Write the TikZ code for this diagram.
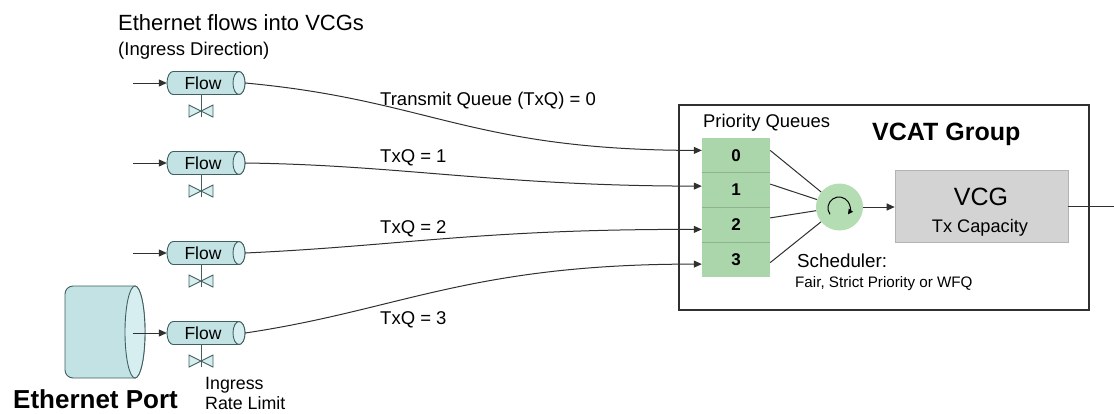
\documentclass[tikz,border=0pt]{standalone}
\usepackage{fontspec}
\setmainfont{Liberation Sans}
\usetikzlibrary{arrows.meta,calc}
\newcommand\fsz[1]{\fontsize{#1}{#1}\selectfont}
\definecolor{cyanfill}{HTML}{C2E2E4}
\definecolor{cyanend}{HTML}{D6EEF0}
\definecolor{cyanedge}{HTML}{3F5F60}
\definecolor{qgreen}{HTML}{ABD6AB}
\definecolor{qsep}{HTML}{8FB38F}
\definecolor{schgreen}{HTML}{B4DDB4}
\definecolor{vcgfill}{HTML}{D3D3D3}
\definecolor{linec}{HTML}{303030}
\newcommand\flowunit[2]{%
  \filldraw[cylbody] (239,#2-11.5) -- (173,#2-11.5) arc[start angle=270,end angle=90,x radius=6,y radius=11.5] -- (239,#2+11.5) arc[start angle=90,end angle=-90,x radius=6,y radius=11.5] -- cycle;
  \filldraw[cylend] (239,#2) ellipse[x radius=6,y radius=11.5];
  \node[flowbox] (#1) at (206,#2) {Flow\hspace*{6pt}};
  \draw[valve] (201,#2+11.5) -- (201,#2+34);
  \filldraw[valve] (189,#2+22) -- (201,#2+28) -- (189,#2+34) -- cycle (213,#2+22) -- (201,#2+28) -- (213,#2+34) -- cycle;
  \draw[valve] (201,#2+22) -- (201,#2+34);
}
\begin{document}
\begin{tikzpicture}[x=1pt,y=-1pt,
  conn/.style={draw=linec, line width=1pt},
  arr/.style={conn, -{Triangle[length=8pt,width=7pt]}},
  cylbody/.style={fill=cyanfill, draw=cyanedge, line width=0.9pt},
  cylend/.style={fill=cyanend, draw=cyanedge, line width=0.9pt},
  flowbox/.style={rectangle, minimum width=78pt, minimum height=23pt, inner sep=0pt, font=\fsz{17.5}},
  valve/.style={draw=cyanedge, fill=cyanend, line width=0.9pt, line join=miter},
  lbl/.style={inner sep=0pt, anchor=base west, font=\fsz{18.5}},
  qrow/.style={rectangle, fill=qgreen, minimum width=68pt, minimum height=34.75pt, inner sep=0pt, font=\bfseries\fsz{17}},
]
\useasboundingbox (0,0) rectangle (1114,413);

% titles
\node[lbl, font=\fsz{22}] (title) at (118,30) {Ethernet flows into VCGs};
\node[lbl, font=\fsz{18.5}] (subtitle) at (118,55) {(Ingress Direction)};

% VCAT group box
\node[draw=linec, line width=1.2pt, minimum width=410pt, minimum height=205pt, inner sep=0pt] (vcat) at (884,207.5) {};
\node[lbl, font=\bfseries\fsz{25}] (vcatt) at (872,140) {VCAT Group};
\node[lbl, font=\fsz{18.4}] (pq) at (703,127) {Priority Queues};

% queues
\node[qrow] (q0) at (736,155.4) {0};
\node[qrow] (q1) at (736,190.1) {1};
\node[qrow] (q2) at (736,224.9) {2};
\node[qrow] (q3) at (736,259.6) {3};
\draw[qsep, line width=1pt] (q0.south west) -- (q0.south east);
\draw[qsep, line width=1pt] (q1.south west) -- (q1.south east);
\draw[qsep, line width=1pt] (q2.south west) -- (q2.south east);

% scheduler
\node[circle, fill=schgreen, minimum size=47pt, inner sep=0pt] (sch) at (839.5,207) {};
\draw[line width=1pt, draw=black, -{Triangle[length=5pt,width=5pt]}] ([shift={(145:11)}]839,208) arc[start angle=145,end angle=395,radius=11];
\draw[conn] ($(q0.east)+(0,-5)$) -- (sch);
\draw[conn] ($(q1.east)+(0,-6)$) -- (sch);
\draw[conn] ($(q2.east)+(0,-7)$) -- (sch);
\draw[conn] ($(q3.east)+(0,3)$) -- (sch);
\node[lbl, font=\fsz{18.8}] (schl) at (797,267) {Scheduler:};
\node[lbl, font=\fsz{15.2}] (schm) at (795,287) {Fair, Strict Priority or WFQ};

% VCG
\node[fill=vcgfill, draw=vcgfill!85!black, line width=0.6pt, minimum width=173pt, minimum height=72pt, inner sep=0pt] (vcg) at (981.5,206) {};
\node[anchor=base, inner sep=0pt, font=\fsz{25}] (vcgt) at (981,205) {VCG};
\node[anchor=base, inner sep=0pt, font=\fsz{18.2}] (vcgc) at (980,232) {Tx Capacity};
\draw[arr] (sch.east) -- (sch.east -| vcg.west);
\coordinate (out) at (1114,206);
\draw[conn] (vcg.east) -- (out);

% Ethernet port
\filldraw[cylbody] (135,286) -- (73,286) arc[start angle=270,end angle=180,radius=8] -- (65,370) arc[start angle=180,end angle=90,radius=8] -- (135,378) arc[start angle=90,end angle=-90,x radius=10,y radius=46] -- cycle;
\filldraw[cylend] (135,332) ellipse[x radius=10,y radius=46];
\node[lbl, font=\bfseries\fsz{26}] (portl) at (13,408.5) {Ethernet Port};

% flows
\flowunit{f0}{83}
\flowunit{f1}{163}
\flowunit{f2}{253}
\flowunit{f3}{333}
\coordinate (s0) at (133,83);
\coordinate (s1) at (133,163);
\coordinate (s2) at (133,253);
\coordinate (s3) at (133,333);
\draw[arr] (s0) -- (f0);
\draw[arr] (s1) -- (f1);
\draw[arr] (s2) -- (f2);
\draw[arr] (s3) -- (f3);
\node[lbl, font=\fsz{17.8}] (ing1) at (205,389.5) {Ingress};
\node[lbl, font=\fsz{17.8}] (ing2) at (205,409.5) {Rate Limit};

% curves
\coordinate (e0) at ($(q0.west)+(0,-5)$);
\coordinate (e1) at ($(q1.west)+(0,-4)$);
\coordinate (e2) at ($(q2.west)+(0,4.5)$);
\coordinate (e3) at ($(q3.west)+(0,4.5)$);
\draw[arr] (f0.east) .. controls (430,100) and (470,150) .. (e0);
\draw[arr] (f1.east) .. controls (400,165) and (500,186) .. (e1);
\draw[arr] (f2.east) .. controls (400,246) and (480,229) .. (e2);
\draw[arr] (f3.east) .. controls (400,310) and (470,264) .. (e3);
\node[lbl] (t0) at (380,105) {Transmit Queue (TxQ) = 0};
\node[lbl] (t1) at (380,162) {TxQ = 1};
\node[lbl] (t2) at (380,233) {TxQ = 2};
\node[lbl] (t3) at (380,324) {TxQ = 3};
\end{tikzpicture}
\end{document}
